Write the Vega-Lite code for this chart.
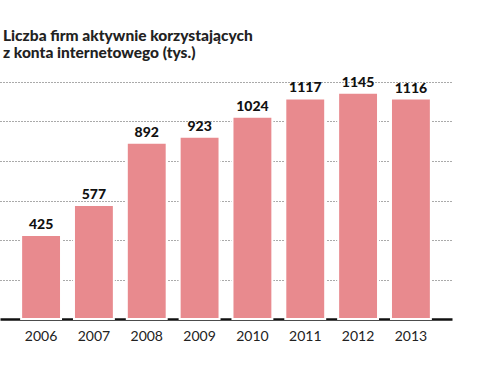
{
  "$schema": "https://vega.github.io/schema/vega-lite/v6.json",
  "width": 452,
  "height": 237,
  "autosize": {"type": "none"},
  "padding": {"left": 0, "top": 82, "right": 26, "bottom": 53},
  "background": "white",
  "title": {
    "text": ["Liczba firm aktywnie korzystających", "z konta internetowego (tys.)"],
    "anchor": "start",
    "frame": "group",
    "font": "Lato",
    "fontSize": 15.5,
    "fontWeight": 900,
    "color": "#222222",
    "lineHeight": 17,
    "offset": 14,
    "dx": 3
  },
  "config": {"view": {"stroke": null}},
  "data": {
    "values": [
      {"rok": "2006", "wartosc": 425},
      {"rok": "2007", "wartosc": 577},
      {"rok": "2008", "wartosc": 892},
      {"rok": "2009", "wartosc": 923},
      {"rok": "2010", "wartosc": 1024},
      {"rok": "2011", "wartosc": 1117},
      {"rok": "2012", "wartosc": 1145},
      {"rok": "2013", "wartosc": 1116}
    ]
  },
  "encoding": {
    "x": {
      "field": "rok",
      "type": "ordinal",
      "scale": {"paddingInner": 0.245, "paddingOuter": 0.4},
      "axis": {
        "title": null,
        "labelAngle": 0,
        "ticks": false,
        "domainColor": "#111111",
        "domainWidth": 2.5,
        "labelFont": "Lato",
        "labelFontSize": 14,
        "labelColor": "#222222",
        "labelPadding": 10
      }
    },
    "y": {
      "field": "wartosc",
      "type": "quantitative",
      "scale": {"domain": [0, 1200]},
      "axis": {
        "title": null,
        "labels": false,
        "ticks": false,
        "domain": false,
        "values": [200, 400, 600, 800, 1000, 1200],
        "gridDash": [1, 2],
        "gridColor": "#555555",
        "gridWidth": 1
      }
    }
  },
  "layer": [
    {
      "mark": {"type": "bar", "color": "#e88a8e", "stroke": "white", "strokeWidth": 2}
    },
    {
      "mark": {
        "type": "text",
        "dy": -10,
        "font": "Lato",
        "fontSize": 14,
        "fontWeight": 900,
        "color": "#111111"
      },
      "encoding": {"text": {"field": "wartosc", "type": "quantitative"}}
    }
  ]
}
